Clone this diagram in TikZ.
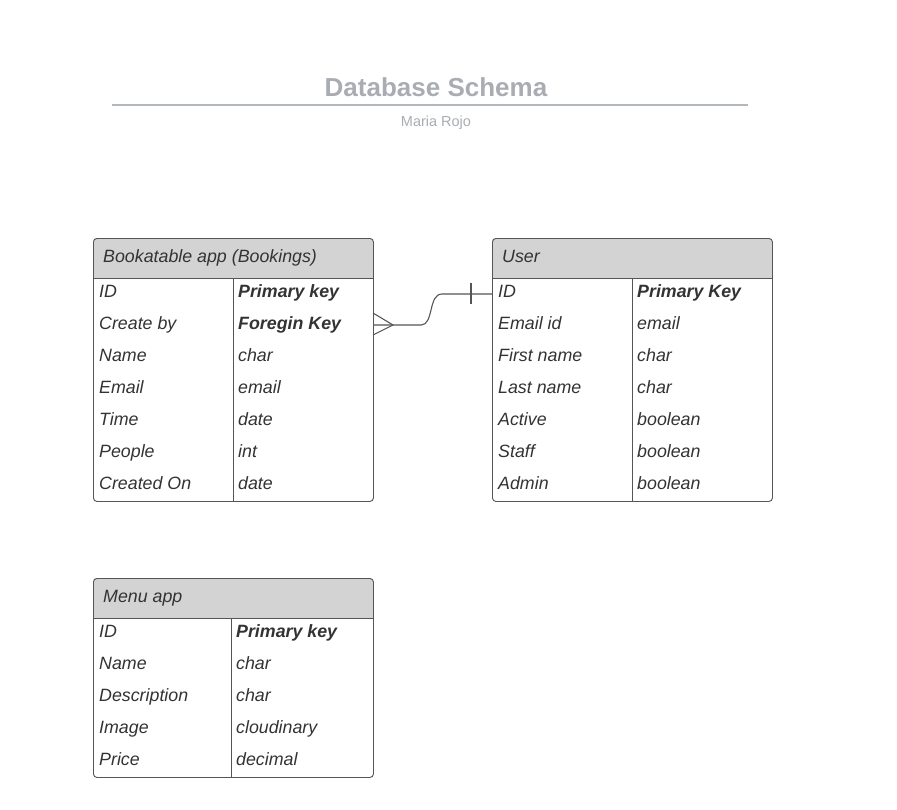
\documentclass[tikz,border=0pt]{standalone}
\usepackage{fontspec}
\setmainfont{Liberation Sans}
\definecolor{titlegray}{HTML}{A9ADB3}
\definecolor{rulegray}{HTML}{B3B8BD}
\definecolor{hdrgray}{HTML}{D3D3D3}
\definecolor{txt}{HTML}{333333}
\definecolor{edgec}{HTML}{555555}
\tikzset{
  tbox/.style={draw=edgec, line width=0.9pt, rounded corners=3.5pt},
  tline/.style={draw=edgec, line width=0.9pt},
  celltext/.style={anchor=base west, inner sep=0pt, text=txt, font=\fontsize{17.8}{20}\selectfont\itshape},
  hdrtext/.style={anchor=base west, inner sep=0pt, text=txt, font=\fontsize{17.8}{20}\selectfont\itshape},
  conn/.style={draw=edgec, line width=1.1pt},
}
% #1 name, #2 left, #3 top, #4 right, #5 divider x, #6 header, #7 rows, #8 bottom
\newcommand\ertable[8]{%
  \fill[hdrgray] (#2,#3+40) [rounded corners=3.5pt] -- (#2,#3) -- (#4,#3) [sharp corners] -- (#4,#3+40) -- cycle;
  \node[tbox, anchor=north west, minimum width=#4-#2, minimum height=#8-#3, inner sep=0pt] (#1) at (#2,#3) {};
  \draw[tline] (#2,#3+40) -- (#4,#3+40);
  \draw[tline] (#5,#3+40) -- (#5,#8);
  \node[hdrtext] (#1-h) at (#2+10,#3+24) {#6};
  \foreach \a/\b [count=\i from 0] in {#7} {
    \node[celltext] (#1-a\i) at (#2+6,#3+59+32*\i) {\a};
    \node[celltext] (#1-b\i) at (#5+5,#3+59+32*\i) {\b};
  }
}
\begin{document}
\begin{tikzpicture}[x=1pt,y=-1pt]
\useasboundingbox[fill=white] (0,0) rectangle (897,809);
% title
\node[text=titlegray, font=\fontsize{26}{30}\selectfont\bfseries, anchor=base, inner sep=0pt] (title) at (436,96) {Database Schema};
\draw[rulegray, line width=2pt] (112,105) -- (748,105);
\node[text=titlegray, font=\fontsize{14.5}{17}\selectfont, anchor=base, inner sep=0pt] (author) at (436,126) {Maria Rojo};

\ertable{bk}{93}{238}{373}{233}{Bookatable app (Bookings)}{ID/{\bfseries Primary key},Create by/{\bfseries Foregin Key},Name/char,Email/email,Time/date,People/int,Created On/date}{501}
\ertable{us}{492}{238}{772}{632}{User}{ID/{\bfseries Primary Key},Email id/email,First name/char,Last name/char,Active/boolean,Staff/boolean,Admin/boolean}{501}
\ertable{mn}{93}{578}{373}{231}{Menu app}{ID/{\bfseries Primary key},Name/char,Description/char,Image/cloudinary,Price/decimal}{777}

% relationship
\coordinate (fkA) at (373,313);
\coordinate (fkB) at (373,325);
\coordinate (fkC) at (373,335);
\coordinate (tip) at (393,325);
\coordinate (pk) at (492,294);
\draw[conn] (fkA) -- (tip) -- (fkC);
\draw[conn] (fkB) -- (tip) -- (421,325) .. controls (434,325) and (428,294) .. (442,294) -- (pk);
\draw[conn] (471,283) -- (471,304);
\end{tikzpicture}
\end{document}
